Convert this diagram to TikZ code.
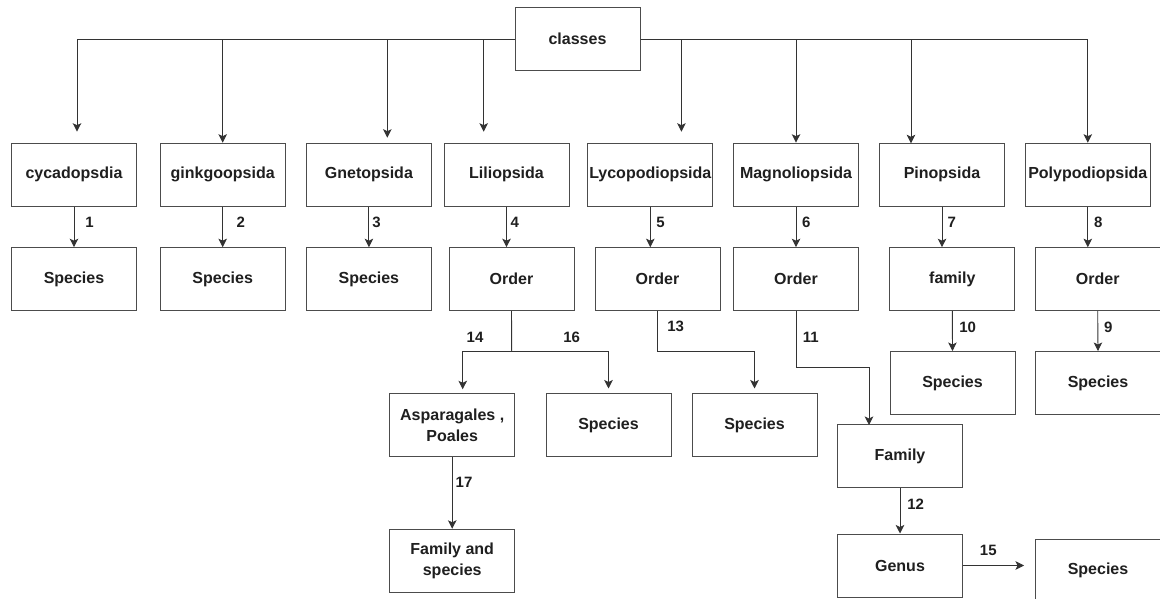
\documentclass[tikz,border=0pt]{standalone}
\usepackage{fontspec}
\setmainfont{Liberation Sans}
\usetikzlibrary{arrows.meta}
\begin{document}
\begin{tikzpicture}[x=1pt,y=-1pt,
  box/.style={draw=black!70,line width=1pt,fill=white,minimum width=125pt,minimum height=63pt,inner sep=0pt,align=center,
    font=\fontsize{16}{21}\selectfont\bfseries,text=black!88},
  lbl/.style={inner sep=0pt,font=\fontsize{15}{17}\selectfont\bfseries,text=black!88},
  arr/.style={draw=black!80,line width=0.9pt,-{Stealth[length=8.5pt,width=8.5pt,inset=2pt]}},
  ln/.style={draw=black!80,line width=0.9pt}]
\clip (0,0) rectangle (1160,599);
\fill[white] (0,0) rectangle (1160,599);
% nodes
\node[box] (classes) at (577.5,39) {classes};
\node[box] (cyc) at (74,174.7) {cycadopsdia};
\node[box] (gin) at (222.7,174.7) {ginkgoopsida};
\node[box] (gne) at (368.9,174.7) {Gnetopsida};
\node[box] (lil) at (506.5,174.7) {Liliopsida};
\node[box] (lyc) at (650.3,174.7) {Lycopodiopsida};
\node[box] (mag) at (796,174.7) {Magnoliopsida};
\node[box] (pin) at (942,174.7) {Pinopsida};
\node[box] (pol) at (1087.8,174.7) {Polypodiopsida};
\node[box] (s1) at (74,279.2) {Species};
\node[box] (s2) at (222.7,279.2) {Species};
\node[box] (s3) at (368.9,279.2) {Species};
\node[box] (ord4) at (511.5,279.2) {Order};
\node[box] (ord5) at (657.5,279.2) {Order};
\node[box] (ord6) at (796,279.2) {Order};
\node[box] (fam7) at (952.3,279.2) {family};
\node[box] (ord8) at (1097.7,279.2) {Order};
\node[box] (asp) at (452.2,425) {Asparagales ,\\Poales};
\node[box] (sp16) at (608.5,425) {Species};
\node[box] (sp13) at (754.5,425) {Species};
\node[box] (sp10) at (952.5,383) {Species};
\node[box] (sp9) at (1098,383) {Species};
\node[box] (fam) at (900,456.3) {Family};
\node[box] (fas) at (452.2,560.8) {Family and\\species};
\node[box] (gen) at (900,565.5) {Genus};
\node[box] (sp15) at (1098,570.6) {Species};
% free ends
\coordinate (t1) at (77,131.7);
\coordinate (t3) at (387.3,137.7);
\coordinate (t4) at (483.7,131.7);
\coordinate (t5) at (681.4,131.7);
\coordinate (t7) at (911,143.3);
\coordinate (j4) at (511.7,351.7);
\coordinate (a14) at (462.7,389.3);
\coordinate (j5) at (657.5,351.7);
\coordinate (j6) at (796,367.7);
\coordinate (a11) at (869,425);
\coordinate (a15) at (1024,565.5);
% connectors from classes
\draw[arr] (classes.west) -| (t1);
\draw[arr] (classes.west) -| (gin.north);
\draw[arr] (classes.west) -| (t3);
\draw[arr] (classes.west) -| (t4);
\draw[arr] (classes.east) -| (t5);
\draw[arr] (classes.east) -| (mag.north);
\draw[arr] (classes.east) -| (t7);
\draw[arr] (classes.east) -| (pol.north);
% level 1 to 2
\draw[arr] (cyc.south) -- (s1.north);
\draw[arr] (gin.south) -- (s2.north);
\draw[arr] (gne.south) -- (s3.north);
\draw[arr] (lil.south) -- (lil.south |- ord4.north);
\draw[arr] (lyc.south) -- (lyc.south |- ord5.north);
\draw[arr] (mag.south) -- (ord6.north);
\draw[arr] (pin.south) -- (pin.south |- fam7.north);
\draw[arr] (pol.south) -- (pol.south |- ord8.north);
% lower
\draw[ln] (ord4.south) -- (j4);
\draw[arr] (j4) -| (a14);
\draw[arr,shorten >=4.5pt] (j4) -| (sp16.north);
\draw[arr,shorten >=4.5pt] (ord5.south) -- (j5) -| (sp13.north);
\draw[arr] (ord6.south) -- (j6) -| (a11);
\draw[arr] (fam7.south) -- (sp10.north);
\draw[arr] (ord8.south) -- (sp9.north);
\draw[arr] (asp.south) -- (fas.north);
\draw[arr] (fam.south) -- (gen.north);
\draw[arr] (gen.east) -- (a15);
% labels
\node[lbl] (l1) at (89.5,222.7) {1};
\node[lbl] (l2) at (240.7,222.7) {2};
\node[lbl] (l3) at (376.6,222.7) {3};
\node[lbl] (l4) at (514.7,222.7) {4};
\node[lbl] (l5) at (660.6,222.7) {5};
\node[lbl] (l6) at (806.4,222.7) {6};
\node[lbl] (l7) at (951.8,222.7) {7};
\node[lbl] (l8) at (1098.3,222.7) {8};
\node[lbl] (l14) at (475,337.7) {14};
\node[lbl] (l16) at (571.7,337.7) {16};
\node[lbl] (l13) at (675.7,326.7) {13};
\node[lbl] (l11) at (810.7,337.7) {11};
\node[lbl] (l10) at (967.7,327.3) {10};
\node[lbl] (l9) at (1108.3,327.3) {9};
\node[lbl] (l17) at (464,482.7) {17};
\node[lbl] (l12) at (915.7,504) {12};
\node[lbl] (l15) at (988.3,550.7) {15};
\end{tikzpicture}
\end{document}
